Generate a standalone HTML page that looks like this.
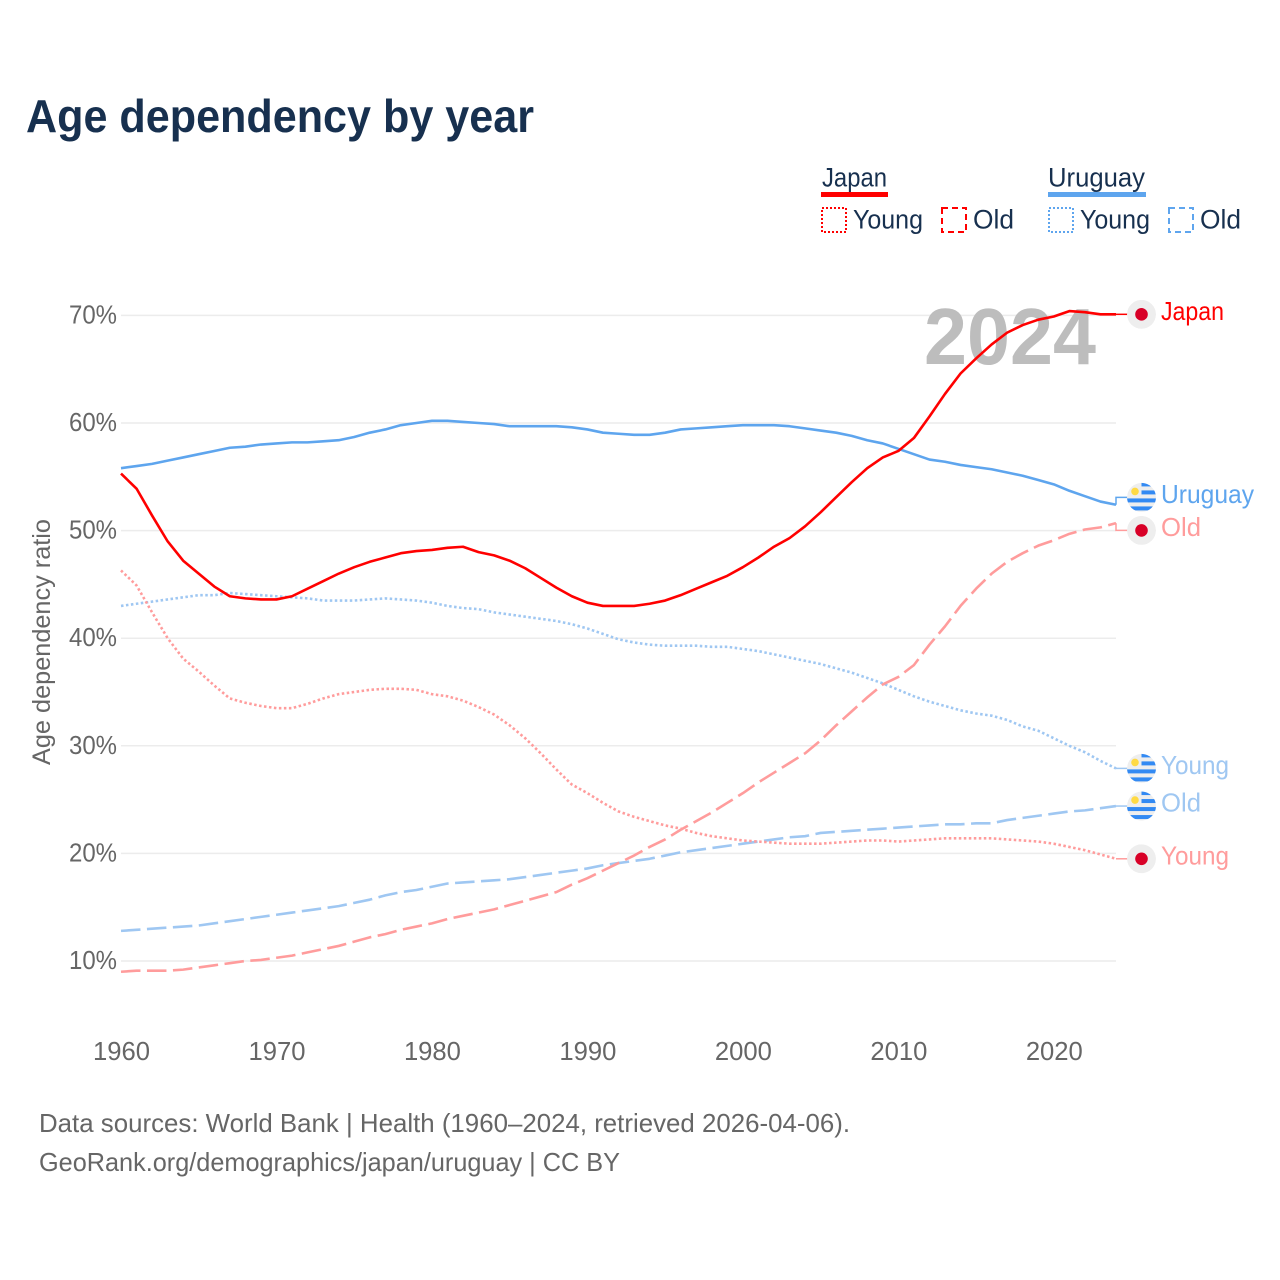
<!DOCTYPE html>
<html lang="en">
<head>
<meta charset="utf-8">
<title>Age dependency by year</title>
<style>
html,body{margin:0;padding:0;background:#fff;}
svg{display:block;font-family:"Liberation Sans",sans-serif;}
</style>
</head>
<body>
<svg id="chart" width="1280" height="1280" viewBox="0 0 1280 1280" xmlns="http://www.w3.org/2000/svg">
  <defs>
    <clipPath id="marker-clip"><circle cx="0" cy="0" r="14.5"></circle></clipPath>
  </defs>
  <text x="26" y="132" font-size="46" font-weight="700" fill="#17304f" textLength="508" lengthAdjust="spacingAndGlyphs">Age dependency by year</text>

  <g font-size="27" fill="#17304f">
    <text x="822" y="186.500" textLength="65" lengthAdjust="spacingAndGlyphs">Japan</text>
    <rect x="821" y="192" width="67" height="5" fill="#ff0000"></rect>
    <rect x="822" y="208" width="24" height="24" fill="none" stroke="#ff0000" stroke-width="2" stroke-dasharray="2 2"></rect>
    <text x="853" y="228.500" textLength="70" lengthAdjust="spacingAndGlyphs">Young</text>
    <rect x="942" y="208" width="24" height="24" fill="none" stroke="#ff0000" stroke-width="2" stroke-dasharray="6 4"></rect>
    <text x="973" y="228.500" textLength="41" lengthAdjust="spacingAndGlyphs">Old</text>
    <text x="1048" y="186.500" textLength="97" lengthAdjust="spacingAndGlyphs">Uruguay</text>
    <rect x="1048" y="192" width="98" height="5" fill="#5ea5ee"></rect>
    <rect x="1049" y="208" width="24" height="24" fill="none" stroke="#5ea5ee" stroke-width="2" stroke-dasharray="2 2"></rect>
    <text x="1080" y="228.500" textLength="70" lengthAdjust="spacingAndGlyphs">Young</text>
    <rect x="1169" y="208" width="24" height="24" fill="none" stroke="#5ea5ee" stroke-width="2" stroke-dasharray="6 4"></rect>
    <text x="1200" y="228.500" textLength="41" lengthAdjust="spacingAndGlyphs">Old</text>
  </g>

  <g id="grid"></g>
  <g id="yticks"></g>
  <g id="xticks"></g>
  <text transform="translate(50,765) rotate(-90)" font-size="25" fill="#666666" textLength="246" lengthAdjust="spacingAndGlyphs">Age dependency ratio</text>
  <text x="924" y="364" font-size="80" font-weight="700" fill="#bdbdbd" textLength="172" lengthAdjust="spacingAndGlyphs">2024</text>
  <g id="series"></g>
  <g id="endlabels"></g>

  <g font-size="26" fill="#666666">
    <text x="39" y="1132" textLength="811" lengthAdjust="spacingAndGlyphs">Data sources: World Bank | Health (1960–2024, retrieved 2026-04-06).</text>
    <text x="39" y="1171" textLength="581" lengthAdjust="spacingAndGlyphs">GeoRank.org/demographics/japan/uruguay | CC BY</text>
  </g>
</svg>
<script>
var startYear = 1960;
var yTickValues = [10, 20, 30, 40, 50, 60, 70];
var xTickValues = [1960, 1970, 1980, 1990, 2000, 2010, 2020];

var japanTotal = [55.3,53.9,51.4,49.0,47.2,46.0,44.8,43.9,43.7,43.6,43.6,43.9,44.6,45.3,46.0,46.6,47.1,47.5,47.9,48.1,48.2,48.4,48.5,48.0,47.7,47.2,46.5,45.6,44.7,43.9,43.3,43.0,43.0,43.0,43.2,43.5,44.0,44.6,45.2,45.8,46.6,47.5,48.5,49.3,50.4,51.7,53.1,54.5,55.8,56.8,57.4,58.6,60.6,62.7,64.6,66.0,67.3,68.4,69.1,69.6,69.9,70.4,70.3,70.1,70.1];
var japanYoung = [46.3,44.9,42.4,40.0,38.1,36.9,35.6,34.4,34.0,33.7,33.5,33.5,33.9,34.4,34.8,35.0,35.2,35.3,35.3,35.2,34.8,34.6,34.2,33.6,32.9,31.9,30.7,29.3,27.8,26.4,25.6,24.7,23.9,23.4,23.0,22.6,22.3,21.9,21.6,21.4,21.2,21.1,21.0,20.9,20.9,20.9,21.0,21.1,21.2,21.2,21.1,21.2,21.3,21.4,21.4,21.4,21.4,21.3,21.2,21.1,20.9,20.6,20.3,19.9,19.5];
var japanOld = [9.0,9.1,9.1,9.1,9.2,9.4,9.6,9.8,10.0,10.1,10.3,10.5,10.8,11.1,11.4,11.8,12.2,12.5,12.9,13.2,13.5,13.9,14.2,14.5,14.8,15.2,15.6,16.0,16.4,17.1,17.7,18.4,19.1,19.8,20.6,21.3,22.2,23.0,23.8,24.7,25.6,26.6,27.5,28.4,29.3,30.5,31.9,33.2,34.5,35.7,36.4,37.5,39.4,41.1,43.0,44.6,46.0,47.1,47.9,48.6,49.1,49.7,50.1,50.3,50.7];
var uruguayTotal = [55.8,56.0,56.2,56.5,56.8,57.1,57.4,57.7,57.8,58.0,58.1,58.2,58.2,58.3,58.4,58.7,59.1,59.4,59.8,60.0,60.2,60.2,60.1,60.0,59.9,59.7,59.7,59.7,59.7,59.6,59.4,59.1,59.0,58.9,58.9,59.1,59.4,59.5,59.6,59.7,59.8,59.8,59.8,59.7,59.5,59.3,59.1,58.8,58.4,58.1,57.6,57.1,56.6,56.4,56.1,55.9,55.7,55.4,55.1,54.7,54.3,53.7,53.2,52.7,52.4];
var uruguayYoung = [43.0,43.2,43.4,43.6,43.8,44.0,44.0,44.2,44.1,44.0,43.9,43.8,43.7,43.5,43.5,43.5,43.6,43.7,43.6,43.5,43.3,43.0,42.8,42.7,42.4,42.2,42.0,41.8,41.6,41.3,40.9,40.4,39.9,39.6,39.4,39.3,39.3,39.3,39.2,39.2,39.0,38.8,38.5,38.2,37.9,37.6,37.2,36.8,36.3,35.8,35.2,34.6,34.1,33.7,33.3,33.0,32.8,32.4,31.8,31.4,30.7,30.0,29.4,28.6,27.9];
var uruguayOld = [12.8,12.9,13.0,13.1,13.2,13.3,13.5,13.7,13.9,14.1,14.3,14.5,14.7,14.9,15.1,15.4,15.7,16.1,16.4,16.6,16.9,17.2,17.3,17.4,17.5,17.6,17.8,18.0,18.2,18.4,18.6,18.9,19.1,19.3,19.5,19.8,20.1,20.3,20.5,20.7,20.9,21.1,21.3,21.5,21.6,21.9,22.0,22.1,22.2,22.3,22.4,22.5,22.6,22.7,22.7,22.8,22.8,23.1,23.3,23.5,23.7,23.9,24.0,24.2,24.4];

var NS = 'http://www.w3.org/2000/svg';
var plotLeft = 121, plotRight = 1116, lastYear = 2024;
function xScale(year) { return plotLeft + (year - startYear) * (plotRight - plotLeft) / (lastYear - startYear); }
function yScale(v) { return 961 - (v - 10) * 10.76; }
function mk(tag, attrs, parent) {
  var el = document.createElementNS(NS, tag);
  for (var k in attrs) el.setAttribute(k, attrs[k]);
  parent.appendChild(el);
  return el;
}

var gridG = document.getElementById('grid');
var yG = document.getElementById('yticks');
yTickValues.forEach(function (v) {
  var line = mk('line', {x1: plotLeft, x2: plotRight, y1: yScale(v), y2: yScale(v), stroke: '#ececec', 'stroke-width': 1.500}, gridG);
  
  
  var t = mk('text', {x: 69, y: yScale(v) + 8, 'font-size': 26, fill: '#666666', textLength: 48, lengthAdjust: 'spacingAndGlyphs'}, yG);
  
  
  t.textContent = v + '%';
});
var xG = document.getElementById('xticks');
xTickValues.forEach(function (y) {
  var t = mk('text', {x: xScale(y) - 28, y: 1060, 'font-size': 26, fill: '#666666', textLength: 57, lengthAdjust: 'spacingAndGlyphs'}, xG);
  
  
  t.textContent = y;
});

var seriesDefs = [
  {values: uruguayOld, color: '#9fc7f2', dash: '19.5 6.5', name: 'uruguay-old-line'},
  {values: uruguayYoung, color: '#9fc7f2', dash: '2.500 2.500', name: 'uruguay-young-line'},
  {values: japanOld, color: '#ff9c9c', dash: '19.5 6.5', name: 'japan-old-line'},
  {values: japanYoung, color: '#ff9c9c', dash: '2.500 2.500', name: 'japan-young-line'},
  {values: uruguayTotal, color: '#5ea5ee', dash: 'none', name: 'uruguay-total-line'},
  {values: japanTotal, color: '#ff0000', dash: 'none', name: 'japan-total-line'}
];
var seriesG = document.getElementById('series');
seriesDefs.forEach(function (s) {
  var d = s.values.map(function (v, i) {
    return (i ? 'L' : 'M') + xScale(startYear + i).toFixed(2) + ' ' + yScale(v).toFixed(2);
  }).join(' ');
  var p = mk('path', {d: d, fill: 'none', stroke: s.color, 'stroke-width': 2.600, 'stroke-dasharray': s.dash, 'stroke-linejoin': 'round'}, seriesG);
  
  
});

var endDefs = [
  {values: japanTotal, label: 'Japan', color: '#ff0000', flag: 'jp', w: 63},
  {values: uruguayTotal, label: 'Uruguay', color: '#5ea5ee', flag: 'uy', w: 93},
  {values: japanOld, label: 'Old', color: '#ff9c9c', flag: 'jp', w: 40},
  {values: uruguayYoung, label: 'Young', color: '#9fc7f2', flag: 'uy', w: 68},
  {values: uruguayOld, label: 'Old', color: '#9fc7f2', flag: 'uy', w: 40},
  {values: japanYoung, label: 'Young', color: '#ff9c9c', flag: 'jp', w: 68}
];
endDefs.forEach(function (e) { e.y0 = yScale(e.values[e.values.length - 1]); e.y = e.y0; });
/* separate colliding end labels symmetrically */
var minGap = 33;
for (var i = 1; i < endDefs.length; i++) {
  var gap = endDefs[i].y - endDefs[i - 1].y;
  if (gap < minGap) {
    var push = (minGap - gap) / 2;
    endDefs[i - 1].y -= push;
    endDefs[i].y += push;
  }
}
var endG = document.getElementById('endlabels');
var mx = 1141.500;
endDefs.forEach(function (e) {
  var c = mk('polyline', {points: plotRight + ',' + e.y0 + ' ' + plotRight + ',' + e.y + ' ' + (mx - 14) + ',' + e.y, fill: 'none', stroke: e.color, 'stroke-width': 1.500}, endG);
  
  
  var g = mk('g', {transform: 'translate(' + mx + ',' + e.y + ')', 'clip-path': 'url(#marker-clip)'}, endG);
  
  
  mk('circle', {cx: 0, cy: 0, r: 14.500, fill: '#eeeeee'}, g);
  if (e.flag === 'jp') {
    mk('circle', {cx: 0, cy: 0, r: 6.300, fill: '#d80027'}, g);
  } else {
    mk('rect', {x: 0, y: -15, width: 15, height: 4, fill: '#338af3'}, g);
    mk('rect', {x: 0, y: -7, width: 15, height: 4, fill: '#338af3'}, g);
    mk('rect', {x: -15, y: 1, width: 30, height: 4, fill: '#338af3'}, g);
    mk('rect', {x: -15, y: 9, width: 30, height: 4, fill: '#338af3'}, g);
    mk('circle', {cx: -6.500, cy: -6, r: 3.800, fill: '#ffda44'}, g);
  }
  var t = mk('text', {x: 1161, y: e.y + 5.500, 'font-size': 26, fill: e.color, textLength: e.w, lengthAdjust: 'spacingAndGlyphs'}, endG);
  
  
  t.textContent = e.label;
});
</script>
</body>
</html>
